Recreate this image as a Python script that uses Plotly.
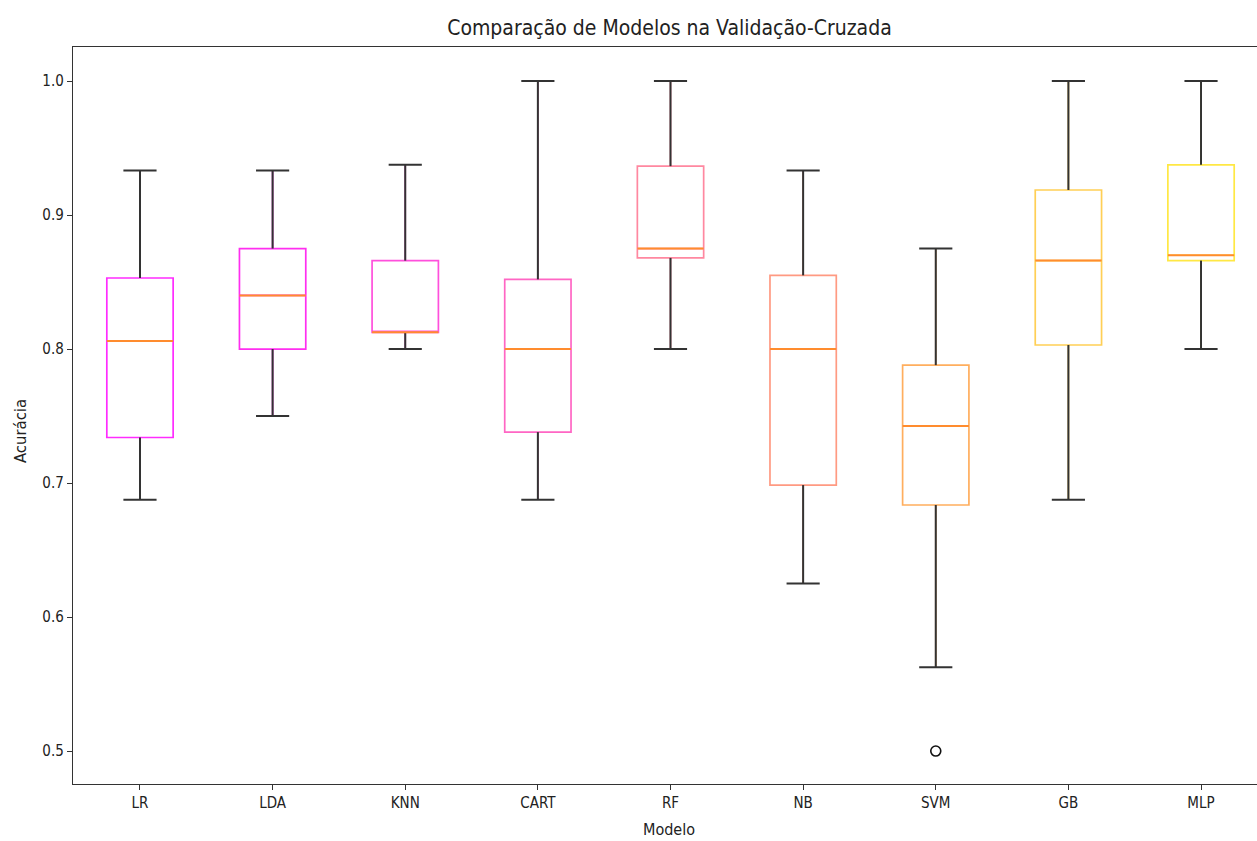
import plotly.graph_objects as go

# ---- data ----
models = ["LR", "LDA", "KNN", "CART", "RF", "NB", "SVM", "GB", "MLP"]
lower_whisker = [0.6875, 0.750, 0.800, 0.6875, 0.800, 0.625, 0.5625, 0.6875, 0.800]
q1 = [0.734, 0.800, 0.8125, 0.738, 0.868, 0.6985, 0.6836, 0.803, 0.866]
median = [0.806, 0.840, 0.8125, 0.800, 0.875, 0.800, 0.7425, 0.866, 0.870]
q3 = [0.853, 0.875, 0.866, 0.852, 0.9365, 0.855, 0.788, 0.9187, 0.9375]
upper_whisker = [0.9333, 0.9333, 0.9375, 1.000, 1.000, 0.9333, 0.875, 1.000, 1.000]
outlier_models = ["SVM"]
outlier_values = [0.500]
y_ticks = [0.5, 0.6, 0.7, 0.8, 0.9, 1.0]

box_colors = ["#ff2cff", "#ff2ef0", "#ff50dc", "#ff66c4", "#ff88a0",
              "#ff9a82", "#ffae5e", "#ffcf55", "#ffe844"]
median_color = "#ff8c2e"
whisker_color = "#333333"
FONT = "DejaVu Sans Condensed, DejaVu Sans"

positions = list(range(1, len(models) + 1))
box_w = 0.5
cap_w = 0.25

fig = go.Figure()

for i, m in enumerate(models):
    fig.add_trace(go.Box(
        x=[positions[i]], q1=[q1[i]], median=[median[i]], q3=[q3[i]],
        lowerfence=[lower_whisker[i]], upperfence=[upper_whisker[i]],
        width=box_w, whiskerwidth=0,
        line=dict(color=box_colors[i], width=1.7),
        fillcolor="rgba(255,255,255,0)",
        boxpoints=False, showlegend=False, hoverinfo="skip", name=m,
    ))

# whiskers + caps (black)
wx, wy = [], []
for i in range(len(models)):
    p = positions[i]
    wx += [p, p, None, p, p, None,
           p - cap_w / 2, p + cap_w / 2, None, p - cap_w / 2, p + cap_w / 2, None]
    wy += [q3[i], upper_whisker[i], None, q1[i], lower_whisker[i], None,
           upper_whisker[i], upper_whisker[i], None, lower_whisker[i], lower_whisker[i], None]
fig.add_trace(go.Scatter(x=wx, y=wy, mode="lines",
                         line=dict(color=whisker_color, width=2),
                         showlegend=False, hoverinfo="skip"))

# medians (orange)
mx, my = [], []
for i in range(len(models)):
    p = positions[i]
    mx += [p - box_w / 2, p + box_w / 2, None]
    my += [median[i], median[i], None]
fig.add_trace(go.Scatter(x=mx, y=my, mode="lines",
                         line=dict(color=median_color, width=2),
                         showlegend=False, hoverinfo="skip"))

# outliers
ox = [positions[models.index(m)] for m in outlier_models]
fig.add_trace(go.Scatter(x=ox, y=outlier_values, mode="markers",
                         marker=dict(symbol="circle-open", size=10,
                                     color="#111111", line=dict(width=1.6)),
                         showlegend=False, hoverinfo="skip"))

fig.update_layout(
    width=1257, height=841,
    margin=dict(l=73, r=0, t=47, b=57),
    paper_bgcolor="white", plot_bgcolor="white",
    font=dict(family=FONT, size=15, color="#222222"),
    title=dict(text="Comparação de Modelos na Validação-Cruzada",
               x=0.5038, xref="paper", xanchor="center",
               y=1 - 28 / 841, yref="container", yanchor="middle",
               font=dict(family=FONT, size=21, color="#222222")),
    boxmode="overlay",
    annotations=[
        dict(text="Modelo", xref="paper", yref="paper",
             x=(669 - 73) / 1184, y=(784 - 829) / 737,
             xanchor="center", yanchor="middle", showarrow=False,
             font=dict(family=FONT, size=16, color="#222222")),
        dict(text="Acurácia", xref="paper", yref="paper",
             x=(20 - 73) / 1184, y=(784 - 431) / 737, textangle=-90,
             xanchor="center", yanchor="middle", showarrow=False,
             font=dict(family=FONT, size=16.5, color="#222222")),
    ],
)

fig.update_xaxes(
    range=[0.495, 9.422], tickmode="array", tickvals=positions, ticktext=models,
    showgrid=False, zeroline=False, showline=True, linecolor="#333333",
    linewidth=1.4, mirror=True, ticks="outside", ticklen=5, tickwidth=1.2,
    tickcolor="#333333", tickfont=dict(size=15),
)
fig.update_yaxes(
    range=[0.4754, 1.0254], tickmode="array", tickvals=y_ticks,
    ticktext=[f"{v:.1f}" for v in y_ticks],
    showgrid=False, zeroline=False, showline=True, linecolor="#333333",
    linewidth=1.4, mirror=False, ticks="outside", ticklen=5, tickwidth=1.2,
    tickcolor="#333333", tickfont=dict(size=15),
)

fig.write_html("out.html")
